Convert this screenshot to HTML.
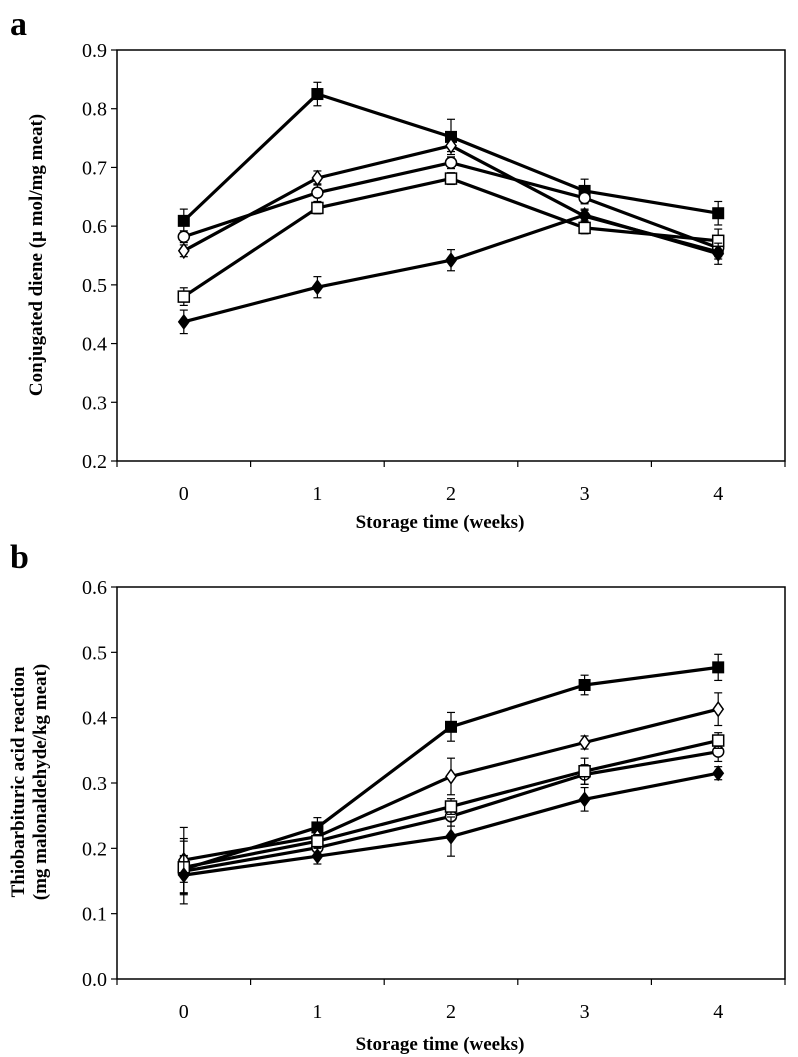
<!DOCTYPE html>
<html><head><meta charset="utf-8"><style>
html,body{margin:0;padding:0;background:#fff;}
svg{display:block;font-family:"Liberation Serif",serif;}
</style></head><body>
<svg id="chart" width="798" height="1057" viewBox="0 0 798 1057">
<text x="10" y="35" font-size="34" font-weight="bold">a</text>
<text x="10" y="568" font-size="34" font-weight="bold">b</text>
<text x="440" y="528" font-size="19" font-weight="bold" text-anchor="middle">Storage time (weeks)</text>
<text x="440" y="1050" font-size="19" font-weight="bold" text-anchor="middle">Storage time (weeks)</text>
<text transform="translate(42,255) rotate(-90)" font-size="19" font-weight="bold" text-anchor="middle">Conjugated diene (µ mol/mg meat)</text>
<text transform="translate(24,782) rotate(-90)" font-size="19" font-weight="bold" text-anchor="middle">Thiobarbituric acid reaction</text>
<text transform="translate(46,782) rotate(-90)" font-size="19" font-weight="bold" text-anchor="middle">(mg malonaldehyde/kg meat)</text>
<g id="pa"></g>
<g id="pb"></g>
</svg>
<script>
const categories = [0, 1, 2, 3, 4];
const seriesNames = ["filled-square", "open-circle", "open-diamond", "open-square", "filled-diamond"];
const markers = ["fsq", "ocirc", "odia", "osq", "fdia"];
// Panel a
const aTicks = [0.2, 0.3, 0.4, 0.5, 0.6, 0.7, 0.8, 0.9];
const aFilledSquare = [0.609, 0.825, 0.752, 0.660, 0.622];
const aOpenCircle = [0.582, 0.657, 0.708, 0.648, 0.563];
const aOpenDiamond = [0.558, 0.682, 0.737, 0.617, 0.556];
const aOpenSquare = [0.480, 0.631, 0.681, 0.597, 0.575];
const aFilledDiamond = [0.437, 0.496, 0.542, 0.619, 0.553];
const aErrFilledSquare = [0.02, 0.02, 0.03, 0.02, 0.02];
const aErrOpenCircle = [0.01, 0.015, 0.01, 0.01, 0.015];
const aErrOpenDiamond = [0.01, 0.012, 0.01, 0.01, 0.012];
const aErrOpenSquare = [0.015, 0.01, 0.01, 0.01, 0.02];
const aErrFilledDiamond = [0.02, 0.018, 0.018, 0.01, 0.018];
// Panel b
const bTicks = [0.0, 0.1, 0.2, 0.3, 0.4, 0.5, 0.6];
const bFilledSquare = [0.168, 0.232, 0.386, 0.450, 0.477];
const bOpenCircle = [0.165, 0.201, 0.249, 0.313, 0.348];
const bOpenDiamond = [0.182, 0.218, 0.310, 0.362, 0.413];
const bOpenSquare = [0.171, 0.211, 0.264, 0.318, 0.365];
const bFilledDiamond = [0.159, 0.188, 0.218, 0.275, 0.315];
const bErrFilledSquare = [0.02, 0.015, 0.022, 0.015, 0.02];
const bErrOpenCircle = [0.05, 0.01, 0.015, 0.015, 0.015];
const bErrOpenDiamond = [0.05, 0.012, 0.028, 0.01, 0.025];
const bErrOpenSquare = [0.04, 0.01, 0.012, 0.02, 0.012];
const bErrFilledDiamond = [0.03, 0.012, 0.03, 0.018, 0.01];

const NS = "http://www.w3.org/2000/svg";
function mk(tag, attrs, parent){const e=document.createElementNS(NS,tag);for(const k in attrs)e.setAttribute(k,attrs[k]);parent.appendChild(e);return e;}
const L=117,R=785;
function xs(i){return L+(R-L)*(i+0.5)/categories.length;}

function panel(g, top, bottom, ticks, series, errs, tag){
  const lo=ticks[0], hi=ticks[ticks.length-1];
  const ys=v=>bottom-(v-lo)/(hi-lo)*(bottom-top);
  const frame=mk("rect",{x:L,y:top,width:R-L,height:bottom-top,fill:"none",stroke:"#000","stroke-width":1.5},g);
  
  
  ticks.forEach(t=>{
    const y=ys(t);
    const tl=mk("line",{x1:L-6,x2:L,y1:y,y2:y,stroke:"#000","stroke-width":1.2},g);
    
    
    const tx=mk("text",{x:L-10,y:y+7,"font-size":20,"text-anchor":"end"},g);
    tx.textContent=t.toFixed(1);
    
    
  });
  for(let k=0;k<=categories.length;k++){
    const x=L+(R-L)*k/categories.length;
    const tl=mk("line",{x1:x,x2:x,y1:bottom,y2:bottom+6,stroke:"#000","stroke-width":1.2},g);
    
    
  }
  categories.forEach((c,i)=>{
    const tx=mk("text",{x:xs(i),y:bottom+39,"font-size":20,"text-anchor":"middle"},g);
    tx.textContent=c;
    
    
  });
  series.forEach((vals,s)=>{
    const sg=mk("g",{},g);
    
    
    vals.forEach((v,i)=>{
      const x=xs(i),e=errs[s][i];
      const y1=ys(v+e),y2=ys(v-e);
      mk("line",{x1:x,x2:x,y1:y1,y2:y2,stroke:"#000","stroke-width":1.2},sg);
      mk("line",{x1:x-4,x2:x+4,y1:y1,y2:y1,stroke:"#000","stroke-width":1.2},sg);
      mk("line",{x1:x-4,x2:x+4,y1:y2,y2:y2,stroke:"#000","stroke-width":1.2},sg);
    });
    const pts=vals.map((v,i)=>xs(i)+","+ys(v)).join(" ");
    const pl=mk("polyline",{points:pts,fill:"none",stroke:"#000","stroke-width":3.2,"stroke-linejoin":"round"},sg);
    
    
    vals.forEach((v,i)=>{
      const x=xs(i),y=ys(v),m=markers[s];let el;
      if(m==="fsq") el=mk("rect",{x:x-6,y:y-6,width:12,height:12,fill:"#000"},sg);
      else if(m==="osq") el=mk("rect",{x:x-5.5,y:y-5.5,width:11,height:11,fill:"#fff",stroke:"#000","stroke-width":1.5},sg);
      else if(m==="ocirc") el=mk("circle",{cx:x,cy:y,r:5.5,fill:"#fff",stroke:"#000","stroke-width":1.5},sg);
      else if(m==="odia") el=mk("polygon",{points:`${x},${y-7} ${x+5},${y} ${x},${y+7} ${x-5},${y}`,fill:"#fff",stroke:"#000","stroke-width":1.5},sg);
      else el=mk("polygon",{points:`${x},${y-8} ${x+6},${y} ${x},${y+8} ${x-6},${y}`,fill:"#000"},sg);
      
      
    });
  });
}
panel(document.getElementById("pa"),50,461,aTicks,
  [aFilledSquare,aOpenCircle,aOpenDiamond,aOpenSquare,aFilledDiamond],
  [aErrFilledSquare,aErrOpenCircle,aErrOpenDiamond,aErrOpenSquare,aErrFilledDiamond],"a");
panel(document.getElementById("pb"),587,979,bTicks,
  [bFilledSquare,bOpenCircle,bOpenDiamond,bOpenSquare,bFilledDiamond],
  [bErrFilledSquare,bErrOpenCircle,bErrOpenDiamond,bErrOpenSquare,bErrFilledDiamond],"b");
</script>
</body></html>
